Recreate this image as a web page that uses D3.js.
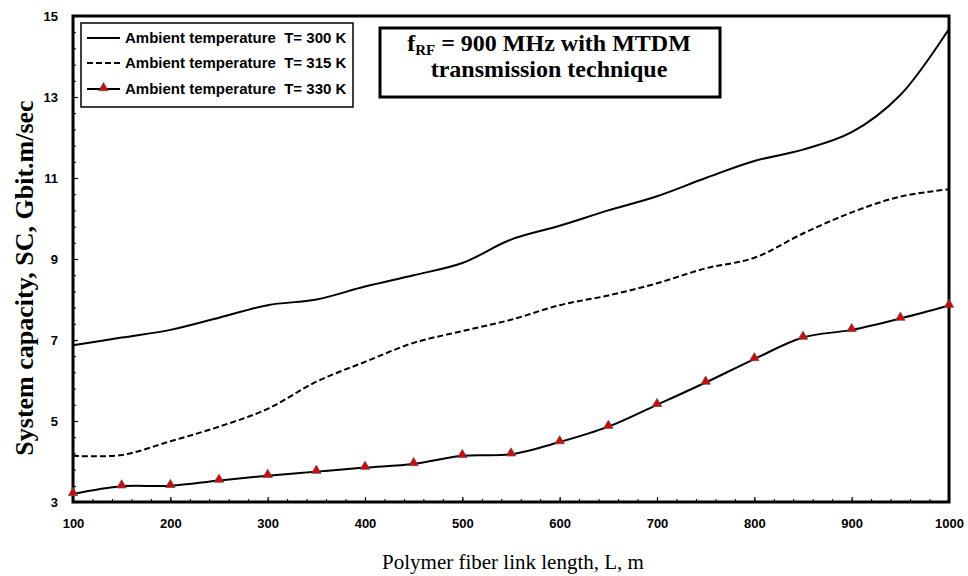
<!DOCTYPE html>
<html>
<head>
<meta charset="utf-8">
<script src="https://cdn.jsdelivr.net/npm/d3@7"></script>
<style>
  html, body { margin: 0; padding: 0; background: #fff; }
  svg { display: block; }
</style>
</head>
<body>
<svg id="chart" width="968" height="576"></svg>
<script>
// Polymer fiber link length (m)
const lengths = [100, 150, 200, 250, 300, 350, 400, 450, 500, 550, 600, 650, 700, 750, 800, 850, 900, 950, 1000];
// System capacity (Gbit.m/sec) at each ambient temperature
const sc300 = [6.87, 7.06, 7.25, 7.55, 7.86, 8.0, 8.32, 8.6, 8.9, 9.48, 9.82, 10.2, 10.55, 11.0, 11.42, 11.7, 12.13, 13.05, 14.68];
const sc315 = [4.14, 4.16, 4.5, 4.86, 5.3, 5.97, 6.46, 6.93, 7.22, 7.5, 7.86, 8.1, 8.4, 8.77, 9.03, 9.63, 10.15, 10.54, 10.72];
const sc330 = [3.2, 3.39, 3.4, 3.53, 3.65, 3.75, 3.85, 3.94, 4.14, 4.18, 4.48, 4.86, 5.4, 5.95, 6.53, 7.06, 7.25, 7.53, 7.85];

const xTicks = [100, 200, 300, 400, 500, 600, 700, 800, 900, 1000];
const yTicks = [3, 5, 7, 9, 11, 13, 15];
const legendLabels = ["Ambient temperature  T= 300 K", "Ambient temperature  T= 315 K", "Ambient temperature  T= 330 K"];

const svg = d3.select("#chart");
const plotLeft = 73, plotRight = 949, plotTop = 16, plotBottom = 502;

const x = d3.scaleLinear().domain([100, 1000]).range([plotLeft, plotRight]);
const y = d3.scaleLinear().domain([3, 15]).range([plotBottom, plotTop]);

// minor tick marks (inward)
const xMinor = d3.range(100, 1000.1, 20);
const yMinor = d3.range(3, 15.01, 0.4);

const gx = svg.append("g").attr("transform", `translate(0,${plotBottom})`);
gx.call(d3.axisBottom(x).tickValues(xMinor).tickSize(-3).tickFormat(""))
  .call(g => g.select(".domain").remove())
  .selectAll("line").attr("stroke", "#000").attr("stroke-width", 1);
const gxMaj = svg.append("g").attr("transform", `translate(0,${plotBottom})`);
gxMaj.call(d3.axisBottom(x).tickValues(xTicks).tickSize(-5).tickPadding(0).tickFormat(d3.format("d")))
  .call(g => g.select(".domain").remove());
gxMaj.selectAll("line").attr("stroke", "#000").attr("stroke-width", 1.2);
gxMaj.selectAll("text")
  .attr("y", 26).attr("dy", 0)
  .attr("font-family", "Liberation Sans, Arial, sans-serif")
  .attr("font-weight", "bold").attr("font-size", 13).attr("fill", "#000");

const gy = svg.append("g").attr("transform", `translate(${plotLeft},0)`);
gy.call(d3.axisLeft(y).tickValues(yMinor).tickSize(-3).tickFormat(""))
  .call(g => g.select(".domain").remove())
  .selectAll("line").attr("stroke", "#000").attr("stroke-width", 1);
const gyMaj = svg.append("g").attr("transform", `translate(${plotLeft},0)`);
gyMaj.call(d3.axisLeft(y).tickValues(yTicks).tickSize(-5).tickFormat(d3.format("d")))
  .call(g => g.select(".domain").remove());
gyMaj.selectAll("line").attr("stroke", "#000").attr("stroke-width", 1.2);
gyMaj.selectAll("text")
  .attr("x", -15).attr("dy", "0.35em")
  .attr("font-family", "Liberation Sans, Arial, sans-serif")
  .attr("font-weight", "bold").attr("font-size", 13).attr("fill", "#000");

// plot frame
svg.append("rect")
  .attr("x", plotLeft).attr("y", plotTop)
  .attr("width", plotRight - plotLeft).attr("height", plotBottom - plotTop)
  .attr("fill", "none").attr("stroke", "#000").attr("stroke-width", 3);

// series lines
const line = d3.line()
  .x((d, i) => x(lengths[i]))
  .y(d => y(d))
  .curve(d3.curveCatmullRom.alpha(0.5));

svg.append("path").datum(sc300)
  .attr("d", line).attr("fill", "none").attr("stroke", "#000").attr("stroke-width", 2);
svg.append("path").datum(sc315)
  .attr("d", line).attr("fill", "none").attr("stroke", "#000").attr("stroke-width", 2)
  .attr("stroke-dasharray", "6,3");
svg.append("path").datum(sc330)
  .attr("d", line).attr("fill", "none").attr("stroke", "#000").attr("stroke-width", 2);

const tri = d3.symbol().type(d3.symbolTriangle).size(38);
svg.append("g").selectAll("path")
  .data(sc330)
  .join("path")
  .attr("d", tri)
  .attr("transform", (d, i) => `translate(${x(lengths[i])},${y(d) - 1})`)
  .attr("fill", "#e00000").attr("stroke", "#555").attr("stroke-width", 0.8);

// legend
const lg = svg.append("g");
lg.append("rect")
  .attr("x", 81).attr("y", 23).attr("width", 272).attr("height", 84)
  .attr("fill", "#fff").attr("stroke", "#000").attr("stroke-width", 1.5);
const rowsY = [38, 63, 89];
lg.append("line").attr("x1", 87).attr("x2", 120).attr("y1", rowsY[0]).attr("y2", rowsY[0])
  .attr("stroke", "#000").attr("stroke-width", 2);
lg.append("line").attr("x1", 87).attr("x2", 120).attr("y1", rowsY[1]).attr("y2", rowsY[1])
  .attr("stroke", "#000").attr("stroke-width", 2).attr("stroke-dasharray", "6,3");
lg.append("line").attr("x1", 87).attr("x2", 120).attr("y1", rowsY[2]).attr("y2", rowsY[2])
  .attr("stroke", "#000").attr("stroke-width", 2);
lg.append("path").attr("d", tri)
  .attr("transform", `translate(103.5,${rowsY[2] - 1})`)
  .attr("fill", "#e00000").attr("stroke", "#555").attr("stroke-width", 0.8);
lg.selectAll("text.lbl")
  .data(legendLabels)
  .join("text")
  .attr("class", "lbl")
  .attr("x", 125)
  .attr("y", (d, i) => rowsY[i] + 5)
  .attr("font-family", "Liberation Sans, Arial, sans-serif")
  .attr("font-weight", "bold").attr("font-size", 15).attr("fill", "#000")
  .style("white-space", "pre")
  .text(d => d);

// annotation box
const ann = svg.append("g");
ann.append("rect")
  .attr("x", 380).attr("y", 28).attr("width", 340).attr("height", 69)
  .attr("fill", "#fff").attr("stroke", "#000").attr("stroke-width", 3);
const t1 = ann.append("text")
  .attr("x", 549).attr("y", 51).attr("text-anchor", "middle")
  .attr("font-family", "Liberation Serif, Times New Roman, serif")
  .attr("font-weight", "bold").attr("font-size", 24).attr("fill", "#000");
t1.append("tspan").text("f");
t1.append("tspan").attr("font-size", 15).attr("dy", 4).text("RF");
t1.append("tspan").attr("dy", -4).text(" = 900 MHz with MTDM");
ann.append("text")
  .attr("x", 549).attr("y", 77).attr("text-anchor", "middle")
  .attr("font-family", "Liberation Serif, Times New Roman, serif")
  .attr("font-weight", "bold").attr("font-size", 24).attr("fill", "#000")
  .text("transmission technique");

// axis titles
svg.append("text")
  .attr("x", 513).attr("y", 569).attr("text-anchor", "middle")
  .attr("font-family", "Liberation Serif, Times New Roman, serif")
  .attr("font-size", 21).attr("fill", "#000")
  .text("Polymer fiber link length, L, m");
svg.append("text")
  .attr("transform", "translate(33,278) rotate(-90)")
  .attr("text-anchor", "middle")
  .attr("font-family", "Liberation Serif, Times New Roman, serif")
  .attr("font-weight", "bold").attr("font-size", 26).attr("fill", "#000")
  .text("System capacity, SC, Gbit.m/sec");
</script>
</body>
</html>
